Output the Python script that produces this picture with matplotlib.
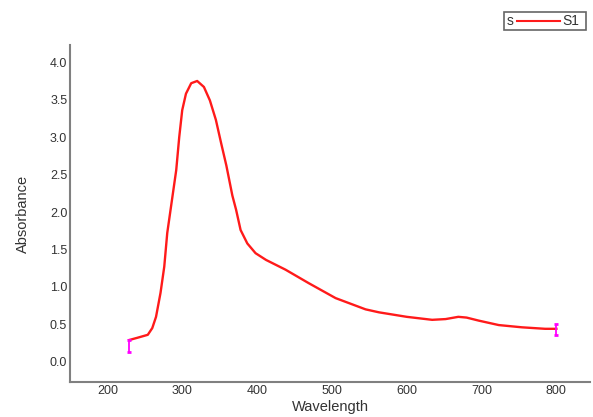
import matplotlib.pyplot as plt
from matplotlib.lines import Line2D
from matplotlib.patches import Rectangle

plt.rcParams['font.family'] = ['Liberation Sans', 'DejaVu Sans']

# spectrum
wavelength = [229, 240, 254, 260, 265, 271, 276, 280, 285, 292, 296, 300,
              305, 312, 320, 329, 337, 345, 352, 359, 367, 372, 378, 387,
              398, 412, 438, 469, 505, 545, 563, 600, 634, 652, 669, 680,
              696, 723, 754, 785, 800]
absorbance = [0.29, 0.32, 0.36, 0.45, 0.60, 0.92, 1.27, 1.72, 2.07, 2.56,
              3.00, 3.36, 3.58, 3.72, 3.75, 3.67, 3.49, 3.23, 2.92, 2.62,
              2.22, 2.03, 1.76, 1.58, 1.45, 1.36, 1.23, 1.05, 0.85, 0.70,
              0.66, 0.60, 0.56, 0.57, 0.60, 0.59, 0.55, 0.49, 0.46, 0.44,
              0.44]

# end markers (magenta bars)
err_x = [229, 800]
err_y = [0.29, 0.44]
err_low = [0.16, 0.08]
err_high = [0.0, 0.07]

x_ticks = [200, 300, 400, 500, 600, 700, 800]
y_ticks = [0.0, 0.5, 1.0, 1.5, 2.0, 2.5, 3.0, 3.5, 4.0]

fig = plt.figure(figsize=(5.93, 4.17), dpi=100)
ax = fig.add_axes([0.118, 0.084, 0.877, 0.808])

ax.plot(wavelength, absorbance, color='#ff1a1a', lw=1.7,
        solid_joinstyle='round', label='S1')
ax.errorbar(err_x, err_y, yerr=[err_low, err_high], fmt='none',
            ecolor='#ff00ff', elinewidth=1.3, capsize=1.5, capthick=2)

ax.set_xlim(150, 845)
ax.set_ylim(-0.27, 4.23)
ax.set_xticks(x_ticks)
ax.set_yticks(y_ticks)
ax.set_yticklabels([f'{v:.1f}' for v in y_ticks])

for side in ['top', 'right']:
    ax.spines[side].set_visible(False)
for side in ['left', 'bottom']:
    ax.spines[side].set_color('#808080')
    ax.spines[side].set_linewidth(1.5)

ax.tick_params(length=0, pad=2, labelsize=9, labelcolor='#333333')
ax.set_xlabel('Wavelength', fontsize=10.5, color='#333333', labelpad=2)
ax.set_ylabel('Absorbance', fontsize=10.5, color='#333333', labelpad=14)

# legend key at top right: "s —— S1" in a box
fig.patches.append(Rectangle((0.850, 0.928), 0.138, 0.043,
                             transform=fig.transFigure, fill=False,
                             edgecolor='#666666', lw=1.2))
fig.lines.append(Line2D([0.872, 0.945], [0.950, 0.950],
                        transform=fig.transFigure, color='#ff1a1a', lw=1.5))
fig.text(0.855, 0.950, 's', fontsize=10, color='#333333',
         ha='left', va='center')
fig.text(0.949, 0.950, 'S1', fontsize=10, color='#333333',
         ha='left', va='center')

fig.savefig('out.png', dpi=100)
